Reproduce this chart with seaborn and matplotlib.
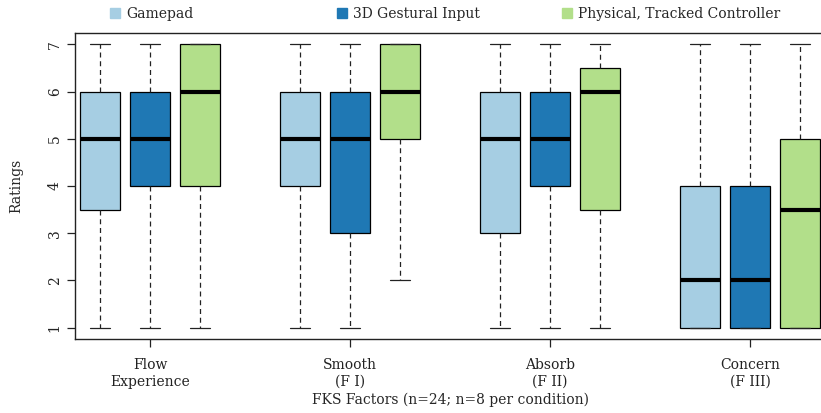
import numpy as np
import pandas as pd
import seaborn as sns
import matplotlib.pyplot as plt
from matplotlib.lines import Line2D

factors = ["Flow\nExperience", "Smooth\n(F I)", "Absorb\n(F II)", "Concern\n(F III)"]
conditions = ["Gamepad", "3D Gestural Input", "Physical, Tracked Controller"]
colors = ["#a6cee3", "#1f78b4", "#b2df8a"]

# ratings per participant (n=8 per condition), one list per factor
gamepad = [
    [1, 2, 4, 5, 5, 6, 6, 7],
    [1, 4, 4, 5, 5, 6, 6, 7],
    [1, 3, 3, 5, 5, 6, 6, 7],
    [1, 1, 1, 2, 2, 4, 4, 7],
]
gestural = [
    [1, 4, 4, 5, 5, 6, 6, 7],
    [1, 3, 3, 5, 5, 6, 6, 7],
    [1, 4, 4, 5, 5, 6, 6, 7],
    [1, 1, 1, 2, 2, 4, 4, 7],
]
tracked = [
    [1, 4, 4, 6, 6, 7, 7, 7],
    [2, 5, 5, 6, 6, 7, 7, 7],
    [1, 2, 4, 6, 6, 6.5, 6.5, 7],
    [1, 1, 1, 3, 4, 5, 5, 7],
]

rows = []
for cond, series in zip(conditions, [gamepad, gestural, tracked]):
    for fac, vals in zip(factors, series):
        for v in vals:
            rows.append({"factor": fac, "condition": cond, "rating": v})
df = pd.DataFrame(rows)

sns.set_theme(style="ticks")
plt.rcParams["font.family"] = ["DejaVu Serif"]
fs = 10

fig = plt.figure(figsize=(8.21, 4.13), dpi=100)
ax = fig.add_axes([75 / 821, 1 - 339 / 413, 750 / 821, 306 / 413])

sns.boxplot(
    data=df, x="factor", y="rating", hue="condition",
    order=factors, hue_order=conditions, palette=colors, saturation=1,
    width=0.75, gap=0.2, whis=(0, 100), linecolor="black", linewidth=0.9,
    medianprops={"linewidth": 3, "color": "black"},
    whiskerprops={"linestyle": (0, (4, 3)), "linewidth": 0.9, "color": "#222222"},
    capprops={"linewidth": 0.9, "color": "#222222"},
    showfliers=False, legend=False, ax=ax,
)

ax.set_xlim(-0.375, 3.375)
ax.set_ylim(0.76, 7.24)
ax.set_yticks(range(1, 8))
ax.tick_params(axis="y", labelrotation=90, length=6, width=0.9, colors="#222222", labelsize=fs)
ax.tick_params(axis="x", length=6, width=0.9, colors="#222222", labelsize=fs, pad=8)
for lab in ax.get_yticklabels():
    lab.set_va("center")
for sp in ax.spines.values():
    sp.set_color("#222222")
    sp.set_linewidth(1.0)

ax.set_xlabel("FKS Factors (n=24; n=8 per condition)", fontsize=fs, labelpad=3)
ax.set_ylabel("Ratings", fontsize=fs, labelpad=18)

# legend entries spaced evenly across the top
for cond, col, xm in zip(conditions, colors, [108 / 821, 335 / 821, 560 / 821]):
    handle = Line2D([], [], marker="s", linestyle="none", markersize=6.5,
                    markerfacecolor=col, markeredgecolor=col)
    fig.legend([handle], [cond], loc="center left", bbox_to_anchor=(xm, 1 - 14 / 413),
               frameon=False, handletextpad=0.3, borderpad=0, borderaxespad=0,
               fontsize=fs, handlelength=1)

fig.savefig("out.png", dpi=100)
